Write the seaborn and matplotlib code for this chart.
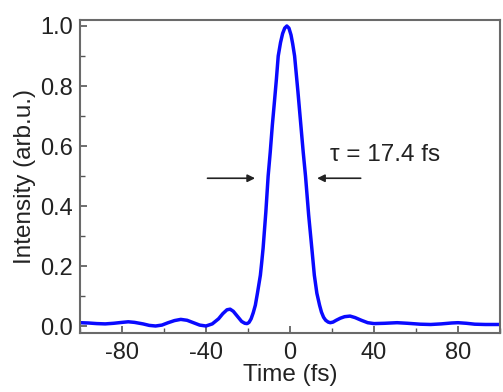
import matplotlib
matplotlib.use("Agg")
import matplotlib.pyplot as plt
from matplotlib.ticker import MultipleLocator, FormatStrFormatter
import seaborn as sns
import pandas as pd

# Intensity profile
time_fs = [-100, -96, -92, -88, -84, -80, -77, -74, -70, -67, -64, -61, -58, -55,
           -52, -49, -46, -43, -40, -37, -34, -32, -30, -28.5, -27, -25, -23,
           -21.5, -20.4, -19.5, -18.5, -17.5, -16.5, -15.5, -14.1, -13.5, -12.8,
           -11.5, -10.4, -9.4, -8.4, -7.5, -6.5, -5.6, -4.5, -3.5, -2.5, -1.5,
           -0.5, 0.5, 1.3, 2.2, 3.0, 3.8, 5.3, 6.3, 7.4, 8.9, 10.4, 11.6, 12.8,
           14.1, 15.0, 16.0, 17.0, 18.2, 19.2, 20.5, 22.0, 24.0, 26.0, 28.6, 31.0,
           34.0, 37.0, 40.0, 45, 51, 56, 62, 67, 72, 77, 80, 84, 88, 93, 100]
intensity = [0.012, 0.011, 0.009, 0.008, 0.010, 0.013, 0.015, 0.013, 0.008, 0.003,
             0.001, 0.004, 0.012, 0.019, 0.023, 0.020, 0.012, 0.004, 0.001, 0.008,
             0.025, 0.042, 0.055, 0.057, 0.050, 0.033, 0.016, 0.010, 0.009, 0.013,
             0.025, 0.045, 0.070, 0.110, 0.170, 0.210, 0.260, 0.380, 0.500, 0.580,
             0.670, 0.740, 0.820, 0.900, 0.945, 0.975, 0.993, 1.000, 0.993, 0.970,
             0.940, 0.900, 0.840, 0.780, 0.660, 0.580, 0.500, 0.370, 0.260, 0.170,
             0.110, 0.070, 0.047, 0.030, 0.020, 0.014, 0.012, 0.014, 0.020, 0.027,
             0.032, 0.034, 0.029, 0.020, 0.012, 0.009, 0.010, 0.012, 0.010, 0.007,
             0.006, 0.008, 0.011, 0.012, 0.010, 0.007, 0.006, 0.006]

fwhm_label = "τ = 17.4 fs"
fwhm_left = -15.3
fwhm_right = 11.6

df = pd.DataFrame({"time": time_fs, "intensity": intensity})

sns.set_style("white")
plt.rcParams["font.family"] = ["Liberation Sans", "DejaVu Sans"]
plt.rcParams["axes.unicode_minus"] = False

fig = plt.figure(figsize=(5.03, 3.92), dpi=100)
ax = fig.add_axes([0.159, 0.150, 0.835, 0.799])

sns.lineplot(data=df, x="time", y="intensity", color="#0a0aff", linewidth=2.5,
             sort=False, ax=ax)

ax.set_xlim(-100, 100)
ax.set_ylim(-0.023, 1.02)
ax.xaxis.set_major_locator(MultipleLocator(40))
ax.xaxis.set_minor_locator(MultipleLocator(20))
ax.yaxis.set_major_locator(MultipleLocator(0.2))
ax.yaxis.set_minor_locator(MultipleLocator(0.1))
ax.yaxis.set_major_formatter(FormatStrFormatter("%.1f"))
ax.tick_params(which="both", direction="in", colors="#555555", labelcolor="#222222",
               labelsize=17, top=False, right=False, bottom=True, left=True)
ax.tick_params(which="major", length=5, width=1.2)
ax.tick_params(which="minor", length=3.5, width=1.0)
ax.tick_params(axis="x", pad=6)
ax.tick_params(axis="y", pad=5)

for s in ax.spines.values():
    s.set_color("#6a6a6a")
    s.set_linewidth(1.5)

ax.set_xlabel("Time (fs)", fontsize=17.5, color="#222222", labelpad=0)
ax.set_ylabel("Intensity (arb.u.)", fontsize=17.5, color="#222222", labelpad=3)

arrow = dict(arrowstyle="-|>", color="#222222", lw=1.2, mutation_scale=11)
ax.annotate("", xy=(fwhm_left, 0.493), xytext=(-40.6, 0.493), arrowprops=arrow)
ax.annotate("", xy=(fwhm_right, 0.493), xytext=(35, 0.493), arrowprops=arrow)
ax.text(19.2, 0.57, fwhm_label, fontsize=17.5, color="#222222", va="center", ha="left")

fig.savefig("out.png", dpi=100)
